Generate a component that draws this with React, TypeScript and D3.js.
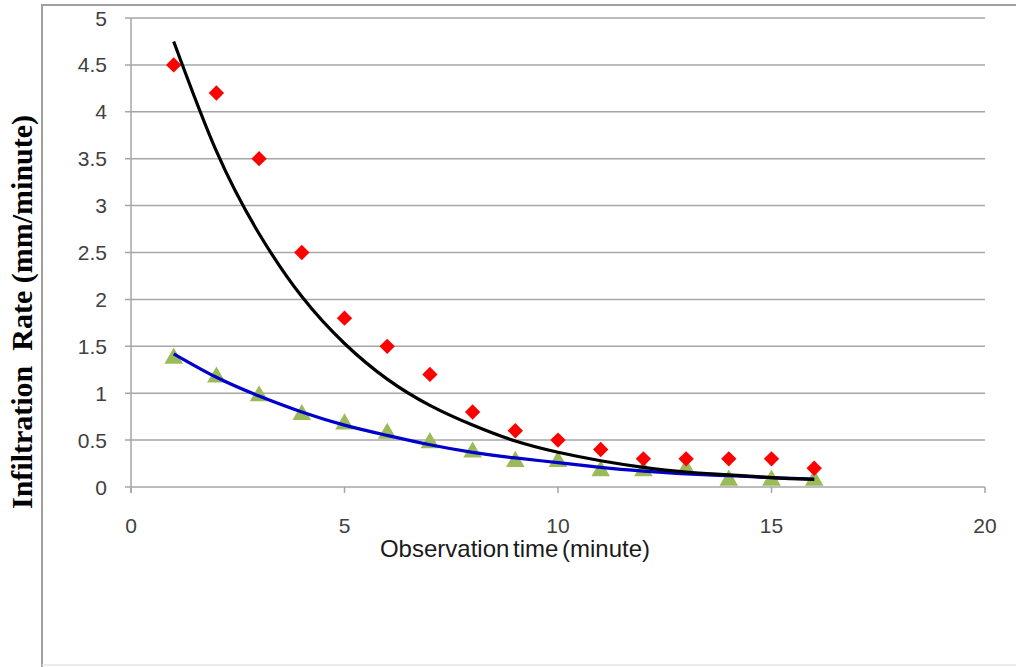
import * as d3 from 'd3';

const WIDTH = 1016;
const HEIGHT = 667;
const MARGINS = { top: 18, right: 31, bottom: 180, left: 131 };

// observed values
const minutes = [1, 2, 3, 4, 5, 6, 7, 8, 9, 10, 11, 12, 13, 14, 15, 16];
const seriesA = [4.5, 4.2, 3.5, 2.5, 1.8, 1.5, 1.2, 0.8, 0.6, 0.5, 0.4, 0.3, 0.3, 0.3, 0.3, 0.2];
const seriesB = [1.4, 1.2, 1.0, 0.8, 0.7, 0.6, 0.5, 0.4, 0.3, 0.3, 0.2, 0.2, 0.22, 0.1, 0.1, 0.1];

// trend lines at each minute
const trendA = [4.75, 3.58, 2.7, 2.03, 1.53, 1.15, 0.87, 0.66, 0.49, 0.37, 0.28, 0.21, 0.16, 0.13, 0.1, 0.08];
const trendB = [1.42, 1.17, 0.97, 0.8, 0.66, 0.55, 0.45, 0.37, 0.31, 0.26, 0.21, 0.17, 0.14, 0.12, 0.1, 0.085];

const xTicks = [0, 5, 10, 15, 20];
const yTicks = [0, 0.5, 1, 1.5, 2, 2.5, 3, 3.5, 4, 4.5, 5];

const xScale = d3
  .scaleLinear()
  .domain([0, 20])
  .range([MARGINS.left, WIDTH - MARGINS.right]);
const yScale = d3
  .scaleLinear()
  .domain([0, 5])
  .range([HEIGHT - MARGINS.bottom, MARGINS.top]);

const trendLine = d3
  .line<number>()
  .x((_, i) => xScale(minutes[i]))
  .y((d) => yScale(d))
  .curve(d3.curveNatural);

const diamond = d3.symbol(d3.symbolDiamond2, 150)();
const triangle = d3.symbol(d3.symbolTriangle, 150)();
// d3 puts the triangle's centroid on the point, Excel its box centre
const triShift = Math.sqrt(150 / (Math.sqrt(3) * 3)) / 2;

const GRID = '#a6a6a6';
const TICK_TEXT = '#404040';
const SANS = 'Liberation Sans, Arial, sans-serif';

export default function App() {
  const x0 = xScale(0);
  const y0 = yScale(0);
  return (
    <svg
      width={WIDTH}
      height={HEIGHT}
      style={{ position: 'absolute', left: 0, top: 0, background: '#fff' }}
    >
      {/* outer frame */}
      <path d={`M42,${HEIGHT}V5H${WIDTH}`} fill="none" stroke="#a0a0a0" strokeWidth={2} />
      <line x1={42} x2={WIDTH} y1={HEIGHT - 2} y2={HEIGHT - 2} stroke="#e4e4e4" strokeWidth={1.5} />

      {/* horizontal grid + y ticks */}
      {yTicks.map((t) => (
        <g key={t}>
          <line
            x1={x0 - 6}
            x2={xScale(20)}
            y1={yScale(t)}
            y2={yScale(t)}
            stroke={GRID}
            strokeWidth={1.5}
          />
          <text
            x={x0 - 24}
            y={yScale(t)}
            dy="0.36em"
            textAnchor="end"
            fontFamily={SANS}
            fontSize={21}
            fill={TICK_TEXT}
          >
            {t}
          </text>
        </g>
      ))}
      <line x1={x0} x2={x0} y1={yScale(5)} y2={y0 + 6} stroke={GRID} strokeWidth={1.5} />

      {/* x ticks */}
      {xTicks.map((t) => (
        <g key={t}>
          <line x1={xScale(t)} x2={xScale(t)} y1={y0} y2={y0 + 6} stroke={GRID} strokeWidth={1.5} />
          <text
            x={xScale(t)}
            y={y0 + 46}
            textAnchor="middle"
            fontFamily={SANS}
            fontSize={21}
            fill={TICK_TEXT}
          >
            {t}
          </text>
        </g>
      ))}

      {/* markers */}
      {minutes.map((m, i) => (
        <path
          key={`b${m}`}
          d={triangle}
          transform={`translate(${xScale(m)},${yScale(seriesB[i]) + triShift})`}
          fill="#9bbb59"
        />
      ))}
      {minutes.map((m, i) => (
        <path
          key={`a${m}`}
          d={diamond}
          transform={`translate(${xScale(m)},${yScale(seriesA[i])})`}
          fill="#ff0000"
        />
      ))}

      {/* trend lines */}
      <path d={trendLine(trendB) ?? ''} fill="none" stroke="#0000cc" strokeWidth={3.2} />
      <path d={trendLine(trendA) ?? ''} fill="none" stroke="#000" strokeWidth={3.2} />

      {/* axis titles */}
      <text
        x={515}
        y={557}
        textAnchor="middle"
        fontFamily={SANS}
        fontSize={24}
        wordSpacing={-3}
        fill="#1a1a1a"
      >
        Observation time (minute)
      </text>
      <text
        transform={`translate(32,${312}) rotate(-90)`}
        textAnchor="middle"
        fontFamily="Liberation Serif, Times New Roman, serif"
        fontWeight="bold"
        fontSize={30}
        fill="#000"
        style={{ whiteSpace: 'pre' }}
      >
        {'Infiltration  Rate (mm/minute)'}
      </text>
    </svg>
  );
}
